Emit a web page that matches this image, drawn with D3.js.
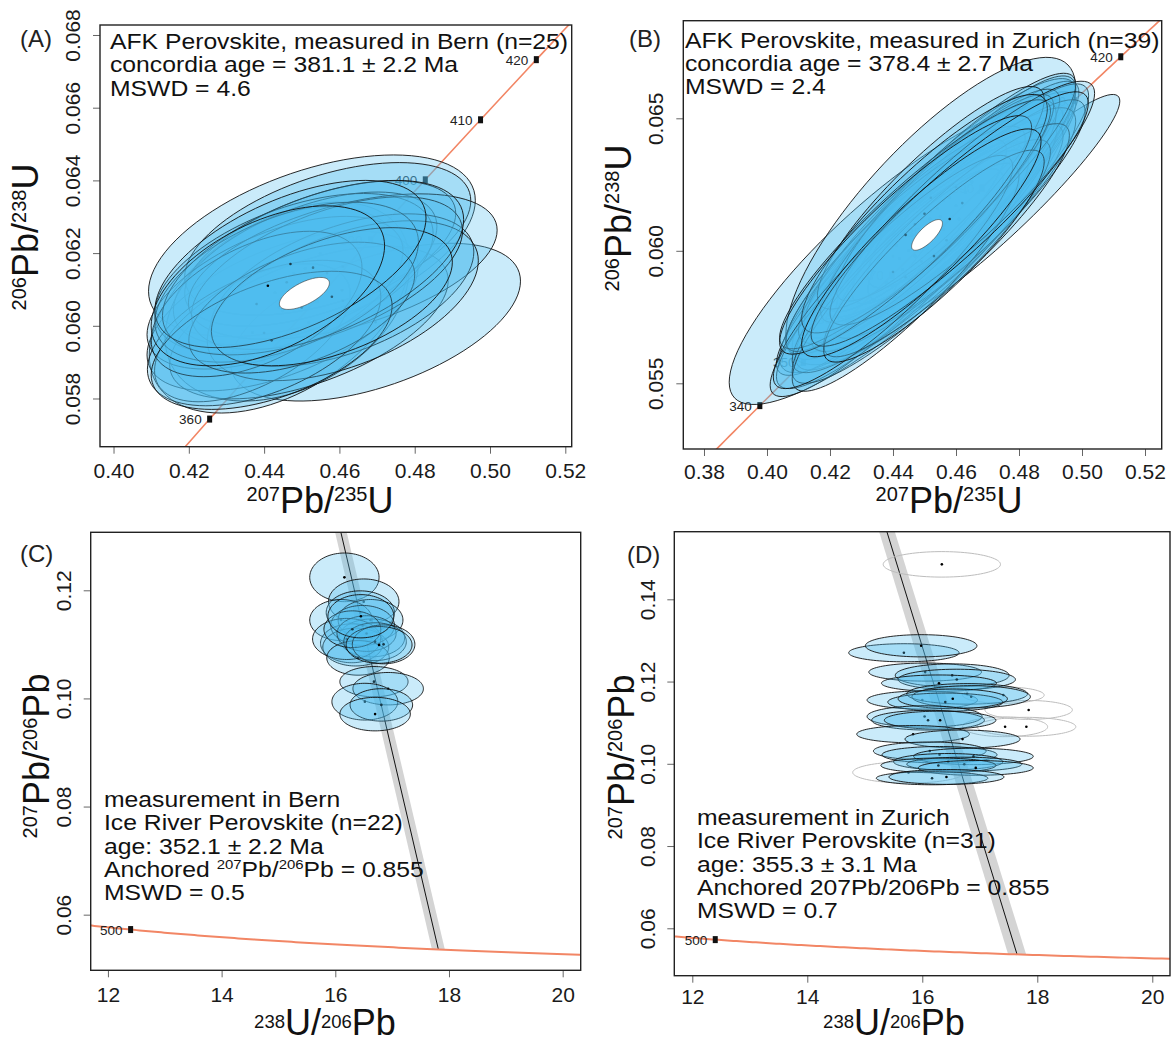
<!DOCTYPE html>
<html>
<head>
<meta charset="utf-8">
<script src="https://cdn.jsdelivr.net/npm/d3@7"></script>
<style>
  body { margin: 0; background: #fff; }
  svg { display: block; }
  text { font-family: "Liberation Sans", Arial, Helvetica, sans-serif; }
</style>
</head>
<body>
<svg id="fig" width="1174" height="1043"></svg>
<script>
// U-Pb perovskite reference material: Wetherill (A, B) and Tera-Wasserburg (C, D) diagrams.

// Decay constants (per Myr) and present-day 238U/235U
const LAMBDA238 = 1.55125e-4;
const LAMBDA235 = 9.8485e-4;
const U238_U235 = 137.818;

// ---------- Panel A: AFK perovskite, Bern ----------
// rows: [207Pb/235U, 206Pb/238U, half-extent x, half-extent y, error correlation]
const ellipsesA = [
  [0.4527, 0.06220, 0.0434, 0.00250, 0.50],
  [0.4696, 0.06010, 0.0385, 0.00217, 0.52],
  [0.4440, 0.06050, 0.0345, 0.00290, 0.45],
  [0.4461, 0.06060, 0.0324, 0.00267, 0.35],
  [0.4449, 0.06041, 0.0360, 0.00220, 0.55],
  [0.4519, 0.06009, 0.0370, 0.00210, 0.55],
  [0.4569, 0.06239, 0.0380, 0.00210, 0.50],
  [0.4549, 0.06199, 0.0360, 0.00200, 0.55],
  [0.4509, 0.06158, 0.0350, 0.00210, 0.55],
  [0.4479, 0.06144, 0.0370, 0.00220, 0.50],
  [0.4429, 0.06091, 0.0340, 0.00210, 0.55],
  [0.4369, 0.05981, 0.0260, 0.00190, 0.55],
  [0.4609, 0.06163, 0.0410, 0.00200, 0.50],
  [0.4607, 0.06098, 0.0350, 0.00210, 0.50],
  [0.4609, 0.06069, 0.0360, 0.00220, 0.50],
  [0.4567, 0.06145, 0.0360, 0.00210, 0.55],
  [0.4400, 0.05980, 0.0310, 0.00200, 0.50],
  [0.4460, 0.06120, 0.0350, 0.00220, 0.50],
  [0.4380, 0.06060, 0.0280, 0.00200, 0.50],
  [0.4500, 0.06050, 0.0300, 0.00180, 0.50],
  [0.4530, 0.06160, 0.0400, 0.00240, 0.55],
  [0.4420, 0.05960, 0.0320, 0.00190, 0.50],
  [0.4580, 0.06080, 0.0320, 0.00190, 0.50],
  [0.4470, 0.06170, 0.0360, 0.00230, 0.55],
  [0.4410, 0.06110, 0.0310, 0.00220, 0.50]
];
const meanA = [0.4507, 0.06089, 0.00664, 0.00044, 0.65];
const agesA = [360, 370, 380, 390, 400, 410, 420];
const xTicksA = [0.40, 0.42, 0.44, 0.46, 0.48, 0.50, 0.52];
const yTicksA = [0.058, 0.060, 0.062, 0.064, 0.066, 0.068];
const statsA = { age: 381.1, err: 2.2, mswd: 4.6, n: 25 };

// ---------- Panel B: AFK perovskite, Zurich ----------
const ellipsesB = [
  [0.4400, 0.0598, 0.052, 0.0056, 0.85],
  [0.4520, 0.0615, 0.046, 0.0058, 0.80],
  [0.4750, 0.0617, 0.037, 0.0042, 0.94],
  [0.4520, 0.0610, 0.042, 0.0046, 0.90],
  [0.4480, 0.0604, 0.040, 0.0045, 0.89],
  [0.4550, 0.0613, 0.041, 0.0044, 0.90],
  [0.4600, 0.0617, 0.038, 0.0043, 0.90],
  [0.4450, 0.0600, 0.041, 0.0046, 0.88],
  [0.4420, 0.0597, 0.039, 0.0044, 0.90],
  [0.4500, 0.0608, 0.044, 0.0047, 0.90],
  [0.4580, 0.0620, 0.040, 0.0045, 0.89],
  [0.4630, 0.0622, 0.036, 0.0042, 0.90],
  [0.4470, 0.0598, 0.038, 0.0043, 0.88],
  [0.4530, 0.0606, 0.039, 0.0044, 0.90],
  [0.4650, 0.0626, 0.033, 0.0040, 0.88],
  [0.4671, 0.0622, 0.035, 0.0041, 0.89],
  [0.4559, 0.0619, 0.037, 0.0042, 0.90],
  [0.4518, 0.0612, 0.040, 0.0045, 0.88],
  [0.4430, 0.0593, 0.040, 0.0045, 0.90],
  [0.4380, 0.0588, 0.037, 0.0043, 0.90],
  [0.4510, 0.0601, 0.043, 0.0047, 0.90],
  [0.4560, 0.0608, 0.042, 0.0046, 0.89],
  [0.4610, 0.0612, 0.040, 0.0045, 0.90],
  [0.4460, 0.0606, 0.036, 0.0041, 0.88],
  [0.4410, 0.0602, 0.035, 0.0040, 0.90],
  [0.4540, 0.0616, 0.037, 0.0043, 0.90],
  [0.4490, 0.0596, 0.041, 0.0046, 0.90],
  [0.4440, 0.0590, 0.036, 0.0043, 0.89],
  [0.4600, 0.0624, 0.038, 0.0043, 0.90],
  [0.4520, 0.0620, 0.036, 0.0042, 0.88],
  [0.4570, 0.0604, 0.039, 0.0044, 0.90],
  [0.4470, 0.0610, 0.043, 0.0047, 0.91],
  [0.4400, 0.0592, 0.038, 0.0044, 0.90],
  [0.4620, 0.0618, 0.042, 0.0046, 0.90],
  [0.4500, 0.0614, 0.039, 0.0045, 0.88],
  [0.4530, 0.0598, 0.035, 0.0040, 0.89],
  [0.4440, 0.0606, 0.040, 0.0045, 0.90],
  [0.4580, 0.0612, 0.044, 0.0048, 0.91],
  [0.4490, 0.0603, 0.038, 0.0043, 0.89]
];
const meanB = [0.4508, 0.0606, 0.0049, 0.00058, 0.75];
const agesB = [340, 350, 360, 370, 380, 390, 400, 410, 420];
const xTicksB = [0.38, 0.40, 0.42, 0.44, 0.46, 0.48, 0.50, 0.52];
const yTicksB = [0.055, 0.060, 0.065];
const statsB = { age: 378.4, err: 2.7, mswd: 2.4, n: 39 };

// ---------- Panel C: Ice River perovskite, Bern ----------
// rows: [238U/206Pb, 207Pb/206Pb, half-extent x, half-extent y, error correlation]
const ellipsesC = [
  [16.16, 0.1224, 0.61, 0.0045, 0],
  [16.50, 0.1179, 0.62, 0.0042, 0],
  [16.44, 0.1159, 0.60, 0.0040, 0],
  [16.10, 0.1145, 0.55, 0.0038, 0],
  [16.62, 0.1145, 0.57, 0.0038, 0],
  [16.64, 0.1112, 0.58, 0.0035, 0],
  [16.29, 0.1102, 0.55, 0.0036, 0],
  [16.36, 0.1095, 0.58, 0.0035, 0],
  [16.48, 0.1135, 0.56, 0.0037, 0],
  [16.20, 0.1110, 0.60, 0.0038, 0],
  [16.55, 0.1120, 0.52, 0.0033, 0],
  [16.40, 0.1075, 0.55, 0.0032, 0],
  [16.70, 0.1105, 0.55, 0.0035, 0],
  [16.30, 0.1128, 0.50, 0.0034, 0],
  [16.85, 0.1100, 0.55, 0.0036, 0],
  [16.77, 0.1099, 0.58, 0.0034, 0],
  [16.45, 0.1152, 0.58, 0.0040, 0],
  [16.68, 0.1031, 0.60, 0.0028, 0],
  [16.93, 0.1018, 0.62, 0.0030, 0],
  [16.52, 0.0994, 0.58, 0.0034, 0],
  [16.81, 0.0988, 0.55, 0.0030, 0],
  [16.70, 0.0971, 0.62, 0.0031, 0]
];
const agesC = [500];
const xTicksC = [12, 14, 16, 18, 20];
const yTicksC = [0.06, 0.08, 0.10, 0.12];
const statsC = { age: 352.1, err: 2.2, anchor: 0.855, mswd: 0.5, n: 22 };

// ---------- Panel D: Ice River perovskite, Zurich ----------
const ellipsesD = [
  [15.68, 0.1270, 0.96, 0.0022, 0],
  [15.98, 0.1287, 0.97, 0.0027, 0],
  [16.05, 0.1223, 0.98, 0.0022, 0],
  [16.52, 0.1215, 0.99, 0.0028, 0],
  [16.60, 0.1205, 1.02, 0.0025, 0],
  [16.29, 0.1196, 1.00, 0.0020, 0],
  [16.00, 0.1155, 0.96, 0.0022, 0],
  [16.78, 0.1170, 1.05, 0.0025, 0],
  [16.85, 0.1163, 1.03, 0.0027, 0],
  [16.40, 0.1150, 1.00, 0.0022, 0],
  [16.53, 0.1158, 0.95, 0.0024, 0],
  [16.04, 0.1115, 1.00, 0.0026, 0],
  [16.10, 0.1106, 0.98, 0.0024, 0],
  [16.31, 0.1106, 0.97, 0.0022, 0],
  [15.84, 0.1072, 0.98, 0.0021, 0],
  [16.70, 0.1060, 1.00, 0.0022, 0],
  [16.13, 0.1031, 0.98, 0.0022, 0],
  [16.30, 0.1022, 1.00, 0.0020, 0],
  [16.89, 0.1018, 1.04, 0.0020, 0],
  [16.45, 0.1005, 0.95, 0.0020, 0],
  [16.73, 0.0999, 1.00, 0.0017, 0],
  [16.28, 0.0996, 1.00, 0.0018, 0],
  [16.93, 0.0990, 1.00, 0.0018, 0],
  [16.17, 0.0965, 0.97, 0.0016, 0],
  [16.42, 0.0968, 1.00, 0.0018, 0]
];
// analyses left out of the regression (outline only)
const rejectedD = [
  [16.34, 0.1485, 1.02, 0.0031, 0],
  [17.41, 0.1167, 0.71, 0.0020, 0],
  [17.85, 0.1131, 0.76, 0.0023, 0],
  [17.44, 0.1090, 0.74, 0.0024, 0],
  [17.81, 0.1090, 0.86, 0.0023, 0],
  [15.76, 0.0979, 0.97, 0.0026, 0]
];
const agesD = [500];
const xTicksD = [12, 14, 16, 18, 20];
const yTicksD = [0.06, 0.08, 0.10, 0.12, 0.14];
const statsD = { age: 355.3, err: 3.1, anchor: 0.855, mswd: 0.7, n: 31 };

// ---------------------------------------------------------------
const FILL = "rgba(80,190,240,0.30)";
const CONCORDIA = "#f28665";
const svg = d3.select("#fig");
const defs = svg.append("defs");

function wetherill(t) { return [Math.expm1(LAMBDA235 * t), Math.expm1(LAMBDA238 * t)]; }
function tera(t) {
  const a = Math.expm1(LAMBDA238 * t), b = Math.expm1(LAMBDA235 * t);
  return [1 / a, b / a / U238_U235];
}

function ellipsePoints(e, x, y) {
  const [cx, cy, ex, ey, r] = e;
  const s = Math.sqrt(1 - r * r);
  return d3.range(0, 96).map(i => {
    const th = i / 96 * 2 * Math.PI, c = Math.cos(th), sn = Math.sin(th);
    return [x(cx + ex * c), y(cy + ey * (r * c + s * sn))];
  });
}
const closed = d3.line().curve(d3.curveLinearClosed);

function richText(parent, x, y, parts, o) {
  const tr = `translate(${x},${y})` + (o.rotate ? ` rotate(${o.rotate})` : "") + ` scale(${o.sx || 1},1)`;
  const t = parent.append("text").attr("transform", tr)
    .attr("font-size", o.size).attr("fill", o.fill || "#111")
    .attr("text-anchor", o.anchor || "start");
  let up = false;
  parts.forEach(p => {
    const sup = Array.isArray(p);
    const s = sup ? p[0] : p;
    const ts = t.append("tspan").text(s);
    if (sup) { ts.attr("font-size", o.sup).attr("dy", up ? 0 : -o.raise); up = true; }
    else { if (up) ts.attr("dy", o.raise); up = false; }
  });
  return t;
}

function makePanel(cfg) {
  const [l, t, r, b] = cfg.box;
  const x = d3.scaleLinear().domain(cfg.xlim).range([l, r]);
  const y = d3.scaleLinear().domain(cfg.ylim).range([b, t]);
  const g = svg.append("g");
  const clipId = "clip" + cfg.id;
  defs.append("clipPath").attr("id", clipId)
    .append("rect").attr("x", l).attr("y", t).attr("width", r - l).attr("height", b - t);
  const plot = g.append("g").attr("clip-path", `url(#${clipId})`);
  return { g, plot, x, y, l, t, r, b };
}

function drawAxes(P, cfg) {
  const gx = P.g.append("g").attr("transform", `translate(0,${P.b})`)
    .call(d3.axisBottom(P.x).tickValues(cfg.xTicks).tickSize(7).tickFormat(d3.format(cfg.xFmt)));
  gx.select(".domain").remove();
  gx.selectAll("line").attr("stroke", "#666");
  gx.selectAll("text").attr("y", cfg.xLab).attr("dy", null)
    .attr("font-size", 21).attr("fill", "#1a1a1a")
    .attr("font-family", "Liberation Sans, Arial, sans-serif");

  const gy = P.g.append("g").attr("transform", `translate(${P.l},0)`)
    .call(d3.axisLeft(P.y).tickValues(cfg.yTicks).tickSize(7).tickFormat(d3.format(cfg.yFmt)));
  gy.select(".domain").remove();
  gy.selectAll("line").attr("stroke", "#666");
  gy.selectAll("text").attr("x", null).attr("dy", null)
    .attr("text-anchor", "middle")
    .attr("transform", `translate(${-cfg.yLab},0) rotate(-90)`)
    .attr("font-size", 21).attr("fill", "#1a1a1a")
    .attr("font-family", "Liberation Sans, Arial, sans-serif");

  P.g.append("rect").attr("x", P.l).attr("y", P.t)
    .attr("width", P.r - P.l).attr("height", P.b - P.t)
    .attr("fill", "none").attr("stroke", "#222").attr("stroke-width", 1.4);
}

function drawEllipses(P, list, style) {
  list.forEach(e => {
    P.plot.append("path").attr("d", closed(ellipsePoints(e, P.x, P.y)))
      .attr("fill", style.fill).attr("stroke", style.stroke)
      .attr("stroke-width", style.width);
    P.plot.append("circle").attr("cx", P.x(e[0])).attr("cy", P.y(e[1]))
      .attr("r", 1.3).attr("fill", "#000");
  });
}

function ageMarkers(P, ages, fn) {
  ages.forEach(a => {
    const [cx, cy] = fn(a);
    const px = P.x(cx), py = P.y(cy);
    P.plot.append("rect").attr("x", px - 2.5).attr("y", py - 3.5)
      .attr("width", 5).attr("height", 7).attr("fill", "#111");
    P.plot.append("text").attr("x", px - 8).attr("y", py + 5)
      .attr("text-anchor", "end").attr("font-size", 13.5).attr("fill", "#222")
      .text(a);
  });
}

// ---------- Wetherill panels ----------
function wetherillPanel(cfg) {
  const P = makePanel(cfg);
  const curve = d3.range(250, 520, 1).map(t => wetherill(t)).map(([a, b]) => [P.x(a), P.y(b)]);
  P.plot.append("path").attr("d", d3.line()(curve)).attr("fill", "none")
    .attr("stroke", CONCORDIA).attr("stroke-width", 1.6);
  ageMarkers(P, cfg.ages, wetherill);
  drawEllipses(P, cfg.ellipses, { fill: FILL, stroke: "#111", width: 0.9 });
  P.plot.append("path").attr("d", closed(ellipsePoints(cfg.mean, P.x, P.y)))
    .attr("fill", "#fff").attr("stroke", "#333").attr("stroke-width", 0.6);
  drawAxes(P, cfg);
  return P;
}

// ---------- Tera-Wasserburg panels ----------
function teraPanel(cfg) {
  const P = makePanel(cfg);
  const st = cfg.stats;
  const topY = cfg.ylim[1] + 0.01;
  const lineFor = t => {
    const [ix, iy] = tera(t);
    const slope = (iy - st.anchor) / ix;
    return { top: [(topY - st.anchor) / slope, topY], end: [ix, iy] };
  };
  const lo = lineFor(st.age - st.err), hi = lineFor(st.age + st.err), mid = lineFor(st.age);
  const band = [lo.top, lo.end, hi.end, hi.top].map(([a, b]) => [P.x(a), P.y(b)]);
  P.plot.append("path").attr("d", closed(band)).attr("fill", "#d4d4d4").attr("stroke", "none");
  P.plot.append("line")
    .attr("x1", P.x(mid.top[0])).attr("y1", P.y(mid.top[1]))
    .attr("x2", P.x(mid.end[0])).attr("y2", P.y(mid.end[1]))
    .attr("stroke", "#111").attr("stroke-width", 1);
  const curve = d3.range(280, 600, 2).map(t => tera(t)).map(([a, b]) => [P.x(a), P.y(b)]);
  P.plot.append("path").attr("d", d3.line()(curve)).attr("fill", "none")
    .attr("stroke", CONCORDIA).attr("stroke-width", 2);
  ageMarkers(P, cfg.ages, tera);
  if (cfg.rejected) drawEllipses(P, cfg.rejected, { fill: "none", stroke: "#bdbdbd", width: 1 });
  drawEllipses(P, cfg.ellipses, { fill: FILL, stroke: "#111", width: 0.9 });
  drawAxes(P, cfg);
  return P;
}

const PA = wetherillPanel({
  id: "A", box: [100, 25, 571.7, 446.7], xlim: [0.39641, 0.5217], ylim: [0.056674, 0.068275],
  ellipses: ellipsesA, mean: meanA, ages: agesA, xTicks: xTicksA, yTicks: yTicksA,
  xFmt: ".2f", yFmt: ".3f", xLab: 31.6, yLab: 20
});
const PB = wetherillPanel({
  id: "B", box: [683.3, 20.7, 1161.7, 449], xlim: [0.37343, 0.5253], ylim: [0.052521, 0.068683],
  ellipses: ellipsesB, mean: meanB, ages: agesB, xTicks: xTicksB, yTicks: yTicksB,
  xFmt: ".2f", yFmt: ".3f", xLab: 30, yLab: 20
});
const PC = teraPanel({
  id: "C", box: [90.7, 532.3, 580.7, 970.3], xlim: [11.697, 20.317], ylim: [0.04971, 0.13073],
  ellipses: ellipsesC, ages: agesC, stats: statsC, xTicks: xTicksC, yTicks: yTicksC,
  xFmt: "d", yFmt: ".2f", xLab: 31.7, yLab: 20
});
const PD = teraPanel({
  id: "D", box: [674.3, 531.7, 1170, 975.7], xlim: [11.687, 20.308], ylim: [0.04847, 0.15644],
  ellipses: ellipsesD, rejected: rejectedD, ages: agesD, stats: statsD, xTicks: xTicksD, yTicks: yTicksD,
  xFmt: "d", yFmt: ".2f", xLab: 28.6, yLab: 19.3
});

// ---------- annotations ----------
const note = { size: 21.5, sx: 1.15, sup: 13, raise: 8, fill: "#111" };
const lh = 23.3;
function block(x, y0, lines) {
  lines.forEach((parts, i) => richText(svg, x, y0 + i * lh, parts, note));
}
block(110, 49, [
  [`AFK Perovskite, measured in Bern (n=${statsA.n})`],
  [`concordia age = ${statsA.age.toFixed(1)} ± ${statsA.err.toFixed(1)} Ma`],
  [`MSWD = ${statsA.mswd}`]
]);
block(685, 47.7, [
  [`AFK Perovskite, measured in Zurich (n=${statsB.n})`],
  [`concordia age = ${statsB.age.toFixed(1)} ± ${statsB.err.toFixed(1)} Ma`],
  [`MSWD = ${statsB.mswd}`]
]);
block(104, 807, [
  ["measurement in Bern"],
  [`Ice River Perovskite (n=${statsC.n})`],
  [`age: ${statsC.age.toFixed(1)} ± ${statsC.err.toFixed(1)} Ma`],
  ["Anchored ", ["207"], "Pb/", ["206"], `Pb = ${statsC.anchor}`],
  [`MSWD = ${statsC.mswd}`]
]);
block(697, 825, [
  ["measurement in Zurich"],
  [`Ice River Perovskite (n=${statsD.n})`],
  [`age: ${statsD.age.toFixed(1)} ± ${statsD.err.toFixed(1)} Ma`],
  [`Anchored 207Pb/206Pb = ${statsD.anchor}`],
  [`MSWD = ${statsD.mswd}`]
]);

// panel letters
[["(A)", 20, 47], ["(B)", 629, 47], ["(C)", 20, 562], ["(D)", 627, 563]].forEach(([s, x, y]) =>
  svg.append("text").attr("x", x).attr("y", y).attr("font-size", 24)
    .attr("fill", "#222").attr("font-family", "Open Sans, Liberation Sans, sans-serif").text(s));

// axis titles
const title = { size: 36, sup: 20, raise: 12, fill: "#111", anchor: "middle" };
const titleLow = { size: 36, sup: 18.5, raise: 7, fill: "#111", anchor: "middle" };
const wX = [["207"], "Pb/", ["235"], "U"], wY = [["206"], "Pb/", ["238"], "U"];
const tX = [["238"], "U/", ["206"], "Pb"], tY = [["207"], "Pb/", ["206"], "Pb"];
richText(svg, 320, 513, wX, title);
richText(svg, 949, 513, wX, title);
richText(svg, 38, 237, wY, Object.assign({ rotate: -90 }, title));
richText(svg, 631, 218, wY, Object.assign({ rotate: -90 }, title));
richText(svg, 325, 1035, tX, titleLow);
richText(svg, 894, 1035, tX, titleLow);
richText(svg, 48.5, 756, tY, Object.assign({ rotate: -90 }, title));
richText(svg, 634, 757, tY, Object.assign({ rotate: -90 }, title));
</script>
</body>
</html>
